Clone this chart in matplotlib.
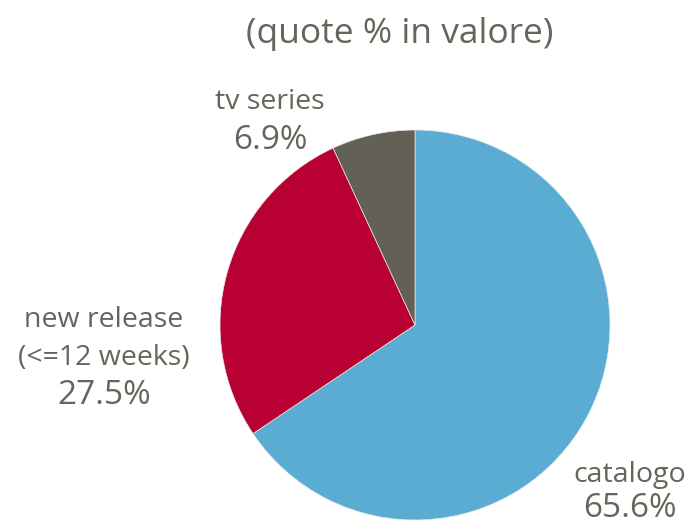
import matplotlib
matplotlib.use("Agg")
import matplotlib.pyplot as plt

labels = ["catalogo", "new release\n(<=12 weeks)", "tv series"]
shares = [65.6, 27.5, 6.9]
colors = ["#5BACD3", "#B90033", "#636155"]
text_color = "#66655A"

W, H = 692, 525
fig = plt.figure(figsize=(W / 100, H / 100), dpi=100)
ax = fig.add_axes([0, 0, 1, 1])

ax.pie(shares, colors=colors, startangle=90, counterclock=False,
       center=(415, H - 325), radius=195,
       wedgeprops=dict(linewidth=0.5, edgecolor="#e8e8e8"))
ax.set_xlim(0, W)
ax.set_ylim(0, H)
ax.set_aspect("equal")
ax.axis("off")

font = "Open Sans"
ax.text(400, H - 43, "(quote % in valore)", ha="center", va="baseline",
        fontsize=25.5, color=text_color, family=font)

# label anchor: x centre, baselines of the name lines, baseline of the value
anchors = [
    (630, [482], 517),
    (104, [327, 365], 404),
    (270, [109], 149),
]
for lab, val, (x, name_bases, val_base) in zip(labels, shares, anchors):
    for line, yb in zip(lab.split("\n"), name_bases):
        ax.text(x, H - yb, line, ha="center", va="baseline",
                fontsize=20.5, color=text_color, family=font)
    ax.text(x, H - val_base, f"{val:.1f}%", ha="center", va="baseline",
            fontsize=24, color=text_color, family=font)

fig.savefig("out.png", dpi=100)
